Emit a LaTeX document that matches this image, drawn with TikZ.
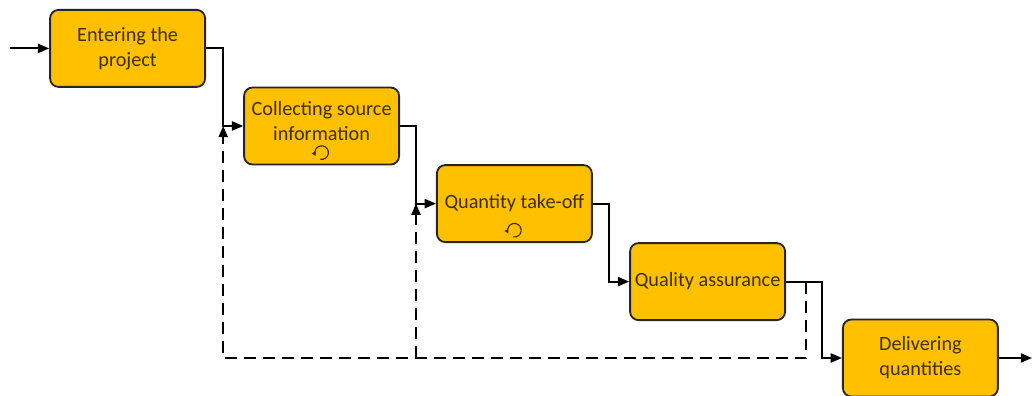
\documentclass[tikz,border=0pt]{standalone}
\usepackage{fontspec}
\setsansfont{Carlito}
\usetikzlibrary{arrows.meta, positioning, calc}

\definecolor{taskfill}{HTML}{FFC000}
\definecolor{tasktext}{HTML}{3D2E00}

\begin{document}
\begin{tikzpicture}[
  font=\sffamily\fontsize{14.4}{17.8}\selectfont,
  box/.style={draw=black!85, line width=1.3pt, rounded corners=6pt, minimum width=3.875cm, minimum height=1.925cm, align=center, inner sep=3pt},
  task/.style={box, fill=taskfill, text=tasktext},
  arrow/.style={-{Triangle[length=8pt, width=6.5pt]}, line width=1.3pt, draw=black},
  dashed-arrow/.style={arrow, dash pattern=on 8.5pt off 5pt},
  loopmark/.style={-{Triangle[length=3pt, width=3pt]}, line width=0.8pt, draw=tasktext}
]
\useasboundingbox (0,0) rectangle (25.8,-9.9);

% Tasks, stepping down to the right
\node[task] (enter)   at (3.19, -1.21)  {Entering the\\project};
\node[task] (collect) at (8.04, -3.15)  {\raisebox{2pt}[\height][\depth]{\begin{tabular}{@{}c@{}}Collecting source\\information\end{tabular}}};
\node[task] (takeoff) at (12.86, -5.09) {Quantity take-off};
\node[task] (qa)      at (17.69, -7.04) {Quality assurance};
\node[task] (deliver) at (23.01, -8.95) {Delivering\\quantities};

% Loop markers
\draw[loopmark] ([shift={(-100:0.17)}]$(collect.south)+(0,0.32)$) arc[start angle=-100, end angle=210, radius=0.17];
\draw[loopmark] ([shift={(-100:0.17)}]$(takeoff.south)+(0,0.32)$) arc[start angle=-100, end angle=210, radius=0.17];

% Junction points
\coordinate (start)  at (0.25, -1.21);
\coordinate (finish) at (25.8, -8.95);
\coordinate (j1) at ($(collect.west)+(-0.5,0)$);
\coordinate (j2) at ($(takeoff.west)+(-0.5,0)$);
\coordinate (j3) at ($(qa.west)+(-0.5,0)$);
\coordinate (j4) at ($(deliver.west)+(-0.5,0)$);
\coordinate (fb) at ($(qa.east)+(0.5,0)$);

% Main flow
\draw[arrow] (start) -- (enter.west);
\draw[arrow] (enter.east) -| (j1) -- (collect.west);
\draw[arrow] (collect.east) -| (j2) -- (takeoff.west);
\draw[arrow] (takeoff.east) -| (j3) -- (qa.west);
\draw[arrow] (qa.east) -| (j4) -- (deliver.west);
\draw[arrow] (deliver.east) -- (finish);

% Feedback (dashed)
\draw[dashed-arrow] (fb) -- (fb |- deliver.west) -- (j1 |- deliver.west) -- (j1);
\draw[dashed-arrow] (j2 |- deliver.west) -- (j2);

\end{tikzpicture}
\end{document}
